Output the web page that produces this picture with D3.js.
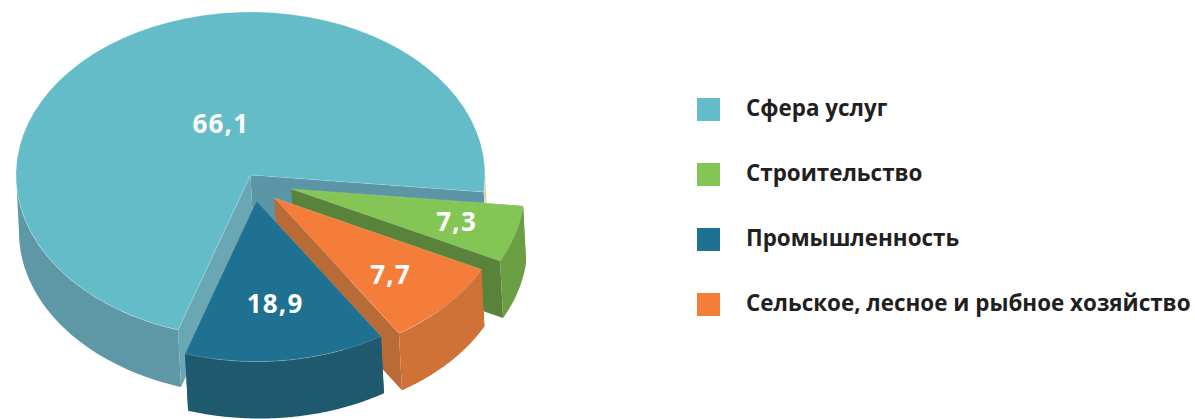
<!DOCTYPE html>
<html>
<head>
<meta charset="utf-8">
<style>
  html, body { margin: 0; background: #fff; }
  svg { display: block; }
  text { font-family: "Open Sans", sans-serif; }
</style>
<script src="https://cdn.jsdelivr.net/npm/d3@7"></script>
</head>
<body>
<svg id="chart" width="1195" height="419"></svg>
<script>
// clockwise from the big slice, the way the pie is stacked
var categories = ["Сфера услуг", "Строительство", "Сельское, лесное и рыбное хозяйство", "Промышленность"];
var values = [66.1, 7.3, 7.7, 18.9];
var valueLabels = ["66,1", "7,3", "7,7", "18,9"];
var legendOrder = [0, 1, 3, 2];

var topColors = ["#64bcc9", "#83c655", "#f47d3a", "#1f7191"];
var outerColors = ["#5e98a6", "#6c9f44", "#ce7238", "#1f596d"];
var startCutColors = ["#68a7b3", "#59823b", "#b86a37", "#1f596d"];
var endCutColors = ["#5c95a5", "#59823b", "#b86a37", "#1f596d"];
var rimColor = "#e3d3ad";

// the 3D drawing does not sweep exactly in proportion to the values,
// so pie angles go through this scale to get the angle on the picture
var drawnAngles = [-162, 96, 116.4, 147.4, 198];

// how far each slice is pulled out of the pie
var pullX = [0, 41, 24, 6];
var pullY = [0, 14, 23, 26];
var radiusScale = [1, 0.993, 0.985, 0.985];

var cx = 250.5, cy = 175, rx = 234.5, ry = 163;
var depthX = 3, depthY = 57;

var svg = d3.select("#chart");

var pieData = d3.pie().sort(null).value(function(d) { return d; })(values);

var stops = [pieData[0].startAngle].concat(pieData.map(function(d) { return d.endAngle; }));
var angleScale = d3.scaleLinear()
    .domain(stops)
    .range(drawnAngles.map(function(d) { return d * Math.PI / 180; }));

var line = d3.line();

function point(i, a, drop) {
  var k = radiusScale[i];
  var s = drop ? 1 : 0;
  return [
    cx + pullX[i] + rx * k * Math.sin(a) + s * depthX,
    cy + pullY[i] - ry * k * Math.cos(a) + s * depthY
  ];
}

function apex(i, drop) {
  var s = drop ? 1 : 0;
  return [cx + pullX[i] + s * depthX, cy + pullY[i] + s * depthY];
}

function arcPoints(i, a0, a1, drop) {
  return d3.range(0, 61).map(function(n) {
    return point(i, a0 + (a1 - a0) * n / 60, drop);
  });
}

function wallPath(i, a0, a1) {
  return line(arcPoints(i, a0, a1).concat(arcPoints(i, a1, a0, true))) + "Z";
}

function cutPath(i, a) {
  return line([apex(i), point(i, a), point(i, a, true), apex(i, true)]) + "Z";
}

function drawSlice(d, i) {
  var a0 = angleScale(d.startAngle), a1 = angleScale(d.endAngle);
  var g = svg.append("g").attr("class", "slice");

  g.append("path").attr("d", cutPath(i, a1)).attr("fill", endCutColors[i]);
  g.append("path").attr("d", cutPath(i, a0)).attr("fill", startCutColors[i]);

  // outer wall, only the part that faces the viewer
  if (i == 0) {
    g.append("path").attr("d", wallPath(i, a0, -Math.PI / 2)).attr("fill", outerColors[i]);
    // thin pale rim where the big slice ends on the right
    g.append("path").attr("d", wallPath(i, Math.PI * 0.49, a1)).attr("fill", rimColor);
  } else {
    g.append("path").attr("d", wallPath(i, a0, a1)).attr("fill", outerColors[i]);
  }

  g.append("path")
    .attr("d", line([apex(i)].concat(arcPoints(i, a0, a1))) + "Z")
    .attr("fill", topColors[i])
    .attr("stroke", "#fff")
    .attr("stroke-opacity", 0.3)
    .attr("stroke-width", 0.6);
}

pieData.forEach(drawSlice);

// value labels, nudged from the middle of each slice
var labelNudgeX = [47, 31, 13, 1];
var labelNudgeY = [31, 6, 13, 7];
svg.selectAll(".value")
  .data(pieData)
  .enter().append("text")
    .attr("class", "value")
    .attr("x", function(d, i) {
      var a = (angleScale(d.startAngle) + angleScale(d.endAngle)) / 2;
      return point(i, a)[0] * 0.6 + apex(i)[0] * 0.4 + labelNudgeX[i];
    })
    .attr("y", function(d, i) {
      var a = (angleScale(d.startAngle) + angleScale(d.endAngle)) / 2;
      return point(i, a)[1] * 0.6 + apex(i)[1] * 0.4 + labelNudgeY[i];
    })
    .attr("text-anchor", "middle")
    .attr("dy", "0.35em")
    .attr("fill", "#fff")
    .attr("font-size", 26)
    .attr("font-weight", 700)
    .attr("letter-spacing", 1.2)
    .text(function(d, i) { return valueLabels[i]; });

// legend
var legendY = d3.scalePoint().domain(d3.range(4)).range([109.5, 304.5]);
var legend = svg.selectAll(".legend")
  .data(legendOrder)
  .enter().append("g")
    .attr("class", "legend")
    .attr("transform", function(d, i) { return "translate(697," + legendY(i) + ")"; });

legend.append("rect")
    .attr("y", -11.5)
    .attr("width", 23)
    .attr("height", 23)
    .attr("fill", function(d) { return topColors[d]; });

legend.append("text")
    .attr("x", 49)
    .attr("y", -1.5)
    .attr("dy", "0.35em")
    .attr("fill", "#231f20")
    .attr("font-size", 22.4)
    .attr("font-weight", 700)
    .text(function(d) { return categories[d]; });
</script>
</body>
</html>
